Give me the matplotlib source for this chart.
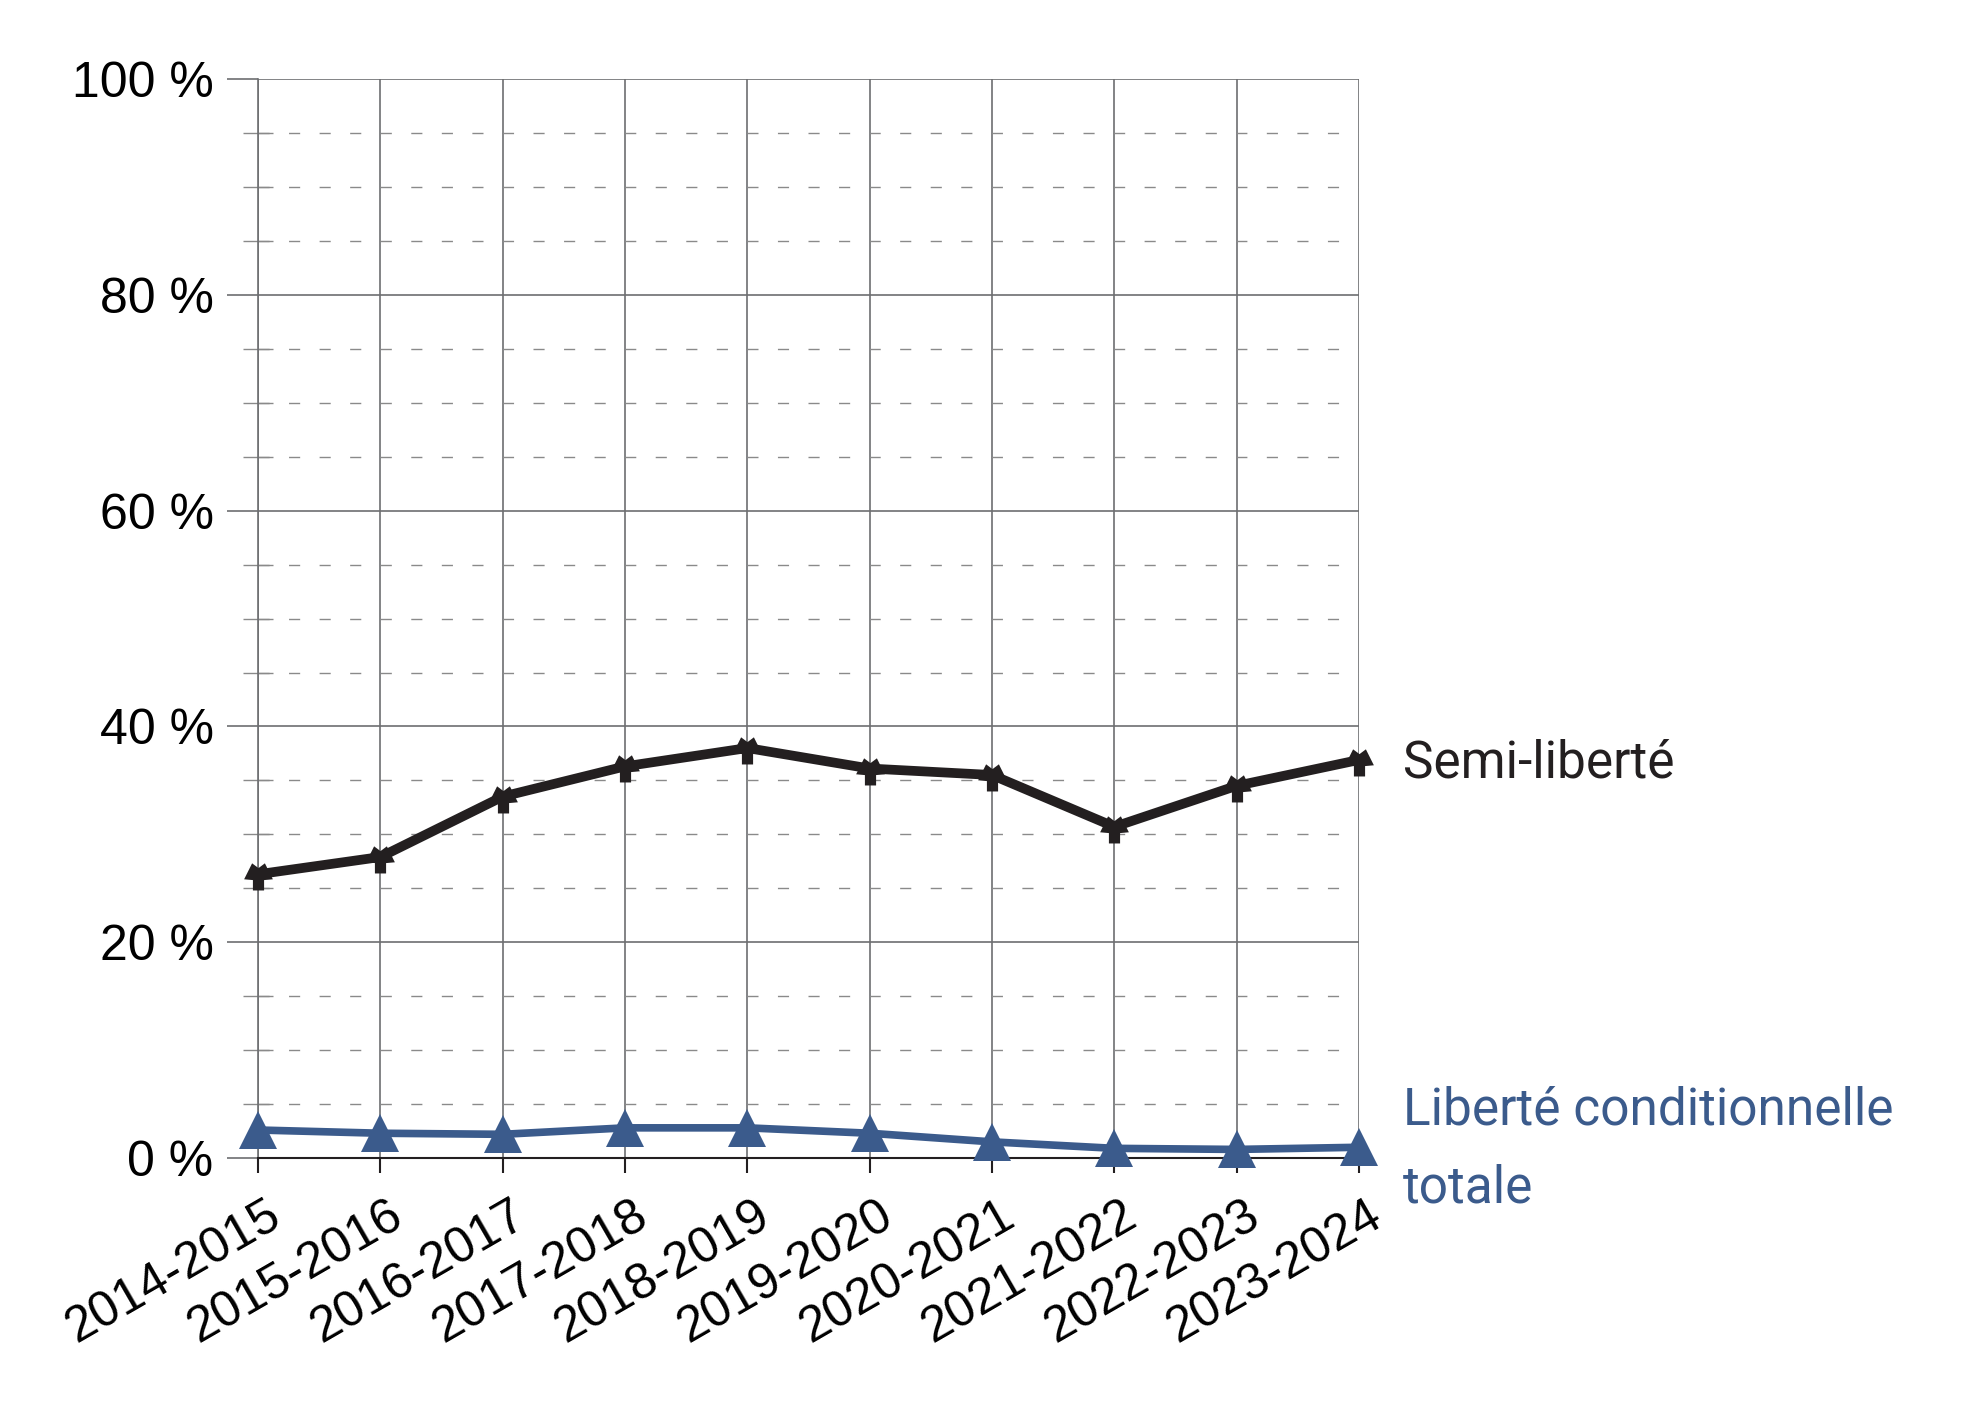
import numpy as np
import matplotlib.pyplot as plt
import matplotlib.transforms as mtransforms
from matplotlib.ticker import MultipleLocator, FuncFormatter

years = ["2014-2015", "2015-2016", "2016-2017", "2017-2018", "2018-2019",
         "2019-2020", "2020-2021", "2021-2022", "2022-2023", "2023-2024"]
semi_liberte = [26.3, 27.9, 33.5, 36.3, 38.0, 36.1, 35.5, 30.7, 34.5, 36.9]
liberte_totale = [2.6, 2.3, 2.2, 2.8, 2.8, 2.3, 1.5, 0.9, 0.8, 1.0]

black = "#231f20"
blue = "#3b5b8c"

# star-on-square marker like the original
star_sq = [(-0.35, -1.0), (0.35, -1.0), (0.35, -0.35), (0.9, -0.3), (0.4, 0.7),
           (0.0, 0.4), (-0.4, 0.7), (-0.9, -0.3), (-0.35, -0.35), (-0.35, -1.0)]

plt.rcParams['font.family'] = ['Liberation Sans', 'DejaVu Sans']

fig = plt.figure(figsize=(19.73, 14.09), dpi=100)
ax = fig.add_axes([0.1308, 0.1781, 0.558, 0.7658])

x = np.arange(len(years))
ax.plot(x, semi_liberte, color=black, lw=7, marker=star_sq, ms=23,
        markeredgewidth=0, zorder=4, clip_on=False)
ax.plot(x, liberte_totale, color=blue, lw=5.5, marker='^', ms=27,
        markeredgewidth=0, zorder=4, clip_on=False)

ax.set_xlim(0, len(years) - 1)
ax.set_ylim(0, 100)
ax.yaxis.set_major_locator(MultipleLocator(20))
ax.yaxis.set_minor_locator(MultipleLocator(5))
ax.yaxis.set_major_formatter(FuncFormatter(lambda v, p: f"{int(v)} %"))
ax.set_xticks(x)
ax.set_xticklabels([])

# rotated year labels, placed a bit right/below each tick like the original
offset = mtransforms.ScaledTranslation(0.19, -0.54, fig.dpi_scale_trans)
for i, yr in enumerate(years):
    ax.text(i, 0, yr, transform=ax.get_xaxis_transform() + offset,
            rotation=30, ha='right', va='center', rotation_mode='anchor',
            fontsize=36, color='black')

ax.grid(axis='y', which='major', color='#6d6e71', lw=1.2)
ax.grid(axis='y', which='minor', color='#8a8a8a', lw=1.0, dashes=(8, 14))
ax.grid(axis='x', which='major', color='#6d6e71', lw=1.2)

for s in ['top', 'right']:
    ax.spines[s].set_visible(False)
ax.spines['left'].set_color('#6d6e71')
ax.spines['left'].set_linewidth(1.2)
ax.spines['bottom'].set_color('#231f20')
ax.spines['bottom'].set_linewidth(1.5)

ax.tick_params(axis='y', which='major', length=22, width=1.2, color='#6d6e71',
               labelsize=36, pad=10, labelcolor='black')
ax.tick_params(axis='y', which='minor', direction='inout', length=22, width=1.0,
               color='#8a8a8a')
ax.tick_params(axis='x', which='major', length=11, width=1.5, color=black)

ax.text(1.04, 36.6, "Semi-liberté", transform=ax.get_yaxis_transform(),
        fontsize=37, color=black, va='center', ha='left', family=['Roboto', 'DejaVu Sans'])
ax.text(1.04, 0.8, "Liberté conditionnelle\ntotale", transform=ax.get_yaxis_transform(),
        fontsize=37, color=blue, va='center', ha='left', linespacing=1.7,
        family=['Roboto', 'DejaVu Sans'])

fig.savefig("out.png", dpi=100)
